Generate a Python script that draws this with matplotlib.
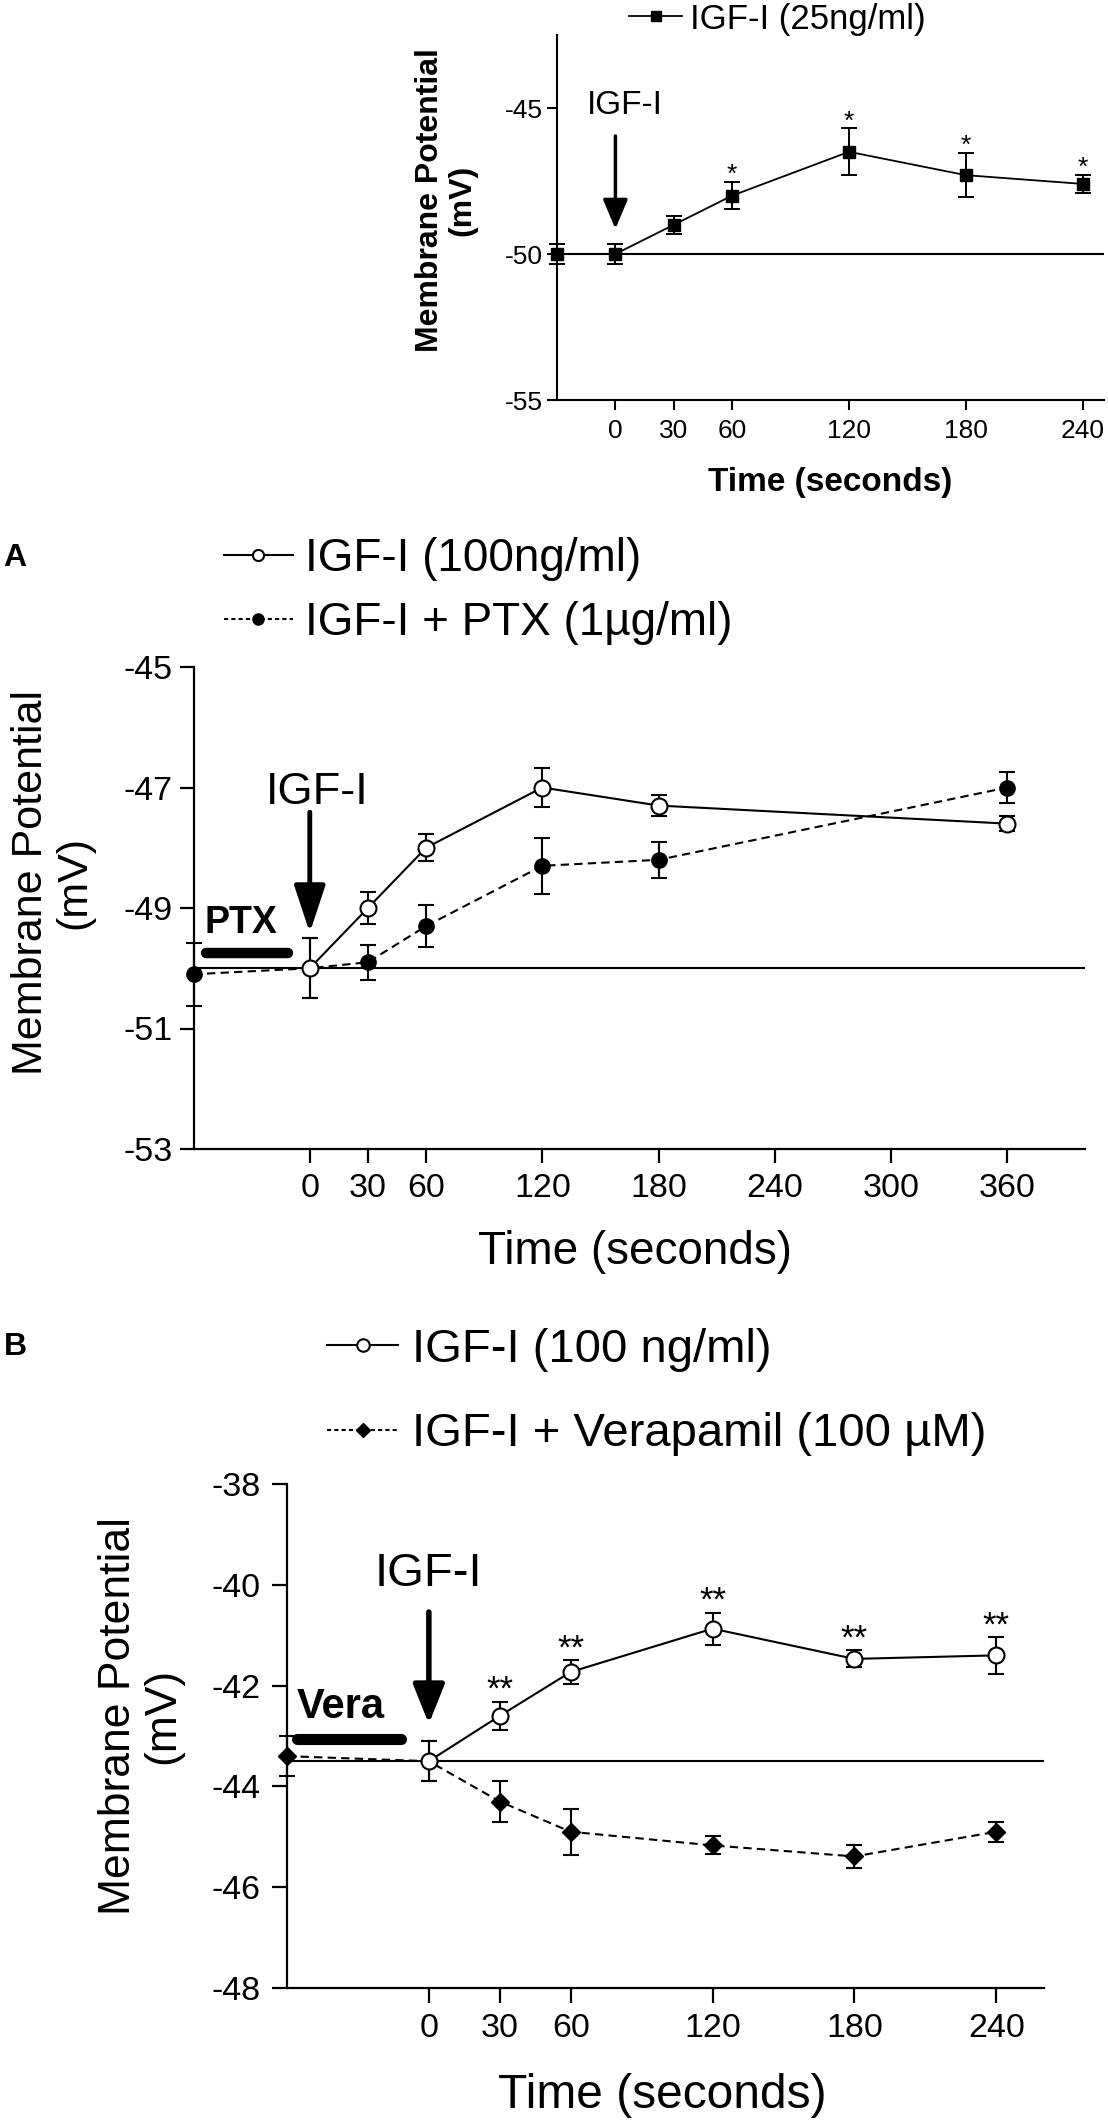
import matplotlib.pyplot as plt
from matplotlib.lines import Line2D

plt.rcParams['font.family'] = ['Liberation Sans', 'DejaVu Sans']
plt.rcParams['axes.unicode_minus'] = False

# ---- data (mV, mean +/- sem) ----
# top panel, IGF-I 25 ng/ml
top_t = [-30, 0, 30, 60, 120, 180, 240]
top_v = [-50.0, -50.0, -49.0, -48.0, -46.5, -47.3, -47.6]
top_e = [0.35, 0.33, 0.31, 0.46, 0.80, 0.75, 0.31]
top_star = [60, 120, 180, 240]
top_xticks = [0, 30, 60, 120, 180, 240]
top_yticks = [-55, -50, -45]

# panel A, IGF-I 100 ng/ml with / without PTX
a_t_igf = [0, 30, 60, 120, 180, 360]
a_v_igf = [-50.0, -49.0, -48.0, -47.0, -47.3, -47.6]
a_e_igf = [0.50, 0.27, 0.22, 0.32, 0.18, 0.12]
a_t_ptx = [-60, 0, 30, 60, 120, 180, 360]
a_v_ptx = [-50.1, -50.0, -49.9, -49.3, -48.3, -48.2, -47.0]
a_e_ptx = [0.52, 0.50, 0.29, 0.35, 0.47, 0.30, 0.25]
a_xticks = [0, 30, 60, 120, 180, 240, 300, 360]
a_yticks = [-53, -51, -49, -47, -45]
ptx_bar = [-53.5, -11]

# panel B, IGF-I 100 ng/ml with / without verapamil
b_t_igf = [0, 30, 60, 120, 180, 240]
b_v_igf = [-43.5, -42.6, -41.73, -40.87, -41.47, -41.4]
b_e_igf = [0.40, 0.28, 0.23, 0.32, 0.17, 0.36]
b_t_vera = [-60, 0, 30, 60, 120, 180, 240]
b_v_vera = [-43.4, -43.5, -44.3, -44.9, -45.17, -45.39, -44.9]
b_e_vera = [0.40, 0.40, 0.40, 0.46, 0.18, 0.22, 0.20]
b_star = [30, 60, 120, 180, 240]
b_xticks = [0, 30, 60, 120, 180, 240]
b_yticks = [-48, -46, -44, -42, -40, -38]
vera_bar = [-55.6, -11.6]

W, H = 1108, 2122
fig = plt.figure(figsize=(W / 100, H / 100), dpi=100)


def box(x0, y0, x1, y1):
    # pixel box -> figure fraction
    return [x0 / W, 1 - y1 / H, (x1 - x0) / W, (y1 - y0) / H]


def style(ax, lw, ticklen, fs, xpad, ypad):
    for s in ['top', 'right']:
        ax.spines[s].set_visible(False)
    for s in ['left', 'bottom']:
        ax.spines[s].set_linewidth(lw)
    ax.tick_params(direction='out', length=ticklen, width=lw, labelsize=fs)
    ax.tick_params(axis='x', pad=xpad)
    ax.tick_params(axis='y', pad=ypad)


def noclip(cont):
    for a in cont.get_children():
        a.set_clip_on(False)


ax0 = fig.add_axes(box(557, 35, 1104, 400))
axA = fig.add_axes(box(193.5, 667, 1085, 1149))
axB = fig.add_axes(box(287, 1484, 1043.5, 1988))

# ---------------- top panel ----------------
style(ax0, 1.5, 7.5, 19, 6, 3)
ax0.axhline(-50, color='k', lw=1.5, zorder=1)
c = ax0.errorbar(top_t, top_v, yerr=top_e, color='k', lw=1.3, marker='s', ms=8,
                 mfc='k', mec='k', elinewidth=1.4, capsize=5.5, capthick=1.4, zorder=3)
noclip(c)
for t in top_star:
    i = top_t.index(t)
    ax0.annotate('*', (t, top_v[i] + top_e[i]), xytext=(0, 0), textcoords='offset points',
                 ha='center', va='baseline', fontsize=19)
ax0.annotate('', xy=(0, -49.14), xytext=(0, -45.96),
             arrowprops=dict(arrowstyle='-|>,head_length=0.9,head_width=0.38', color='k',
                             lw=2.5, shrinkA=0, shrinkB=0, mutation_scale=20))
ax0.text(5, -45.2, 'IGF-I', ha='center', va='baseline', fontsize=24)
ax0.set_xlim(-30, 251)
ax0.set_ylim(-55, -42.5)
ax0.set_xticks(top_xticks)
ax0.set_yticks(top_yticks)
ax0.legend(handles=[Line2D([], [], color='k', lw=1.3, marker='s', ms=7)],
           labels=['IGF-I (25ng/ml)'], loc='center left',
           bbox_to_anchor=(629 / W, 1 - 19 / H), bbox_transform=fig.transFigure,
           frameon=False, fontsize=25, handlelength=1.54, handletextpad=0.23,
           borderpad=0, borderaxespad=0)
fig.text(446 / W, 1 - 200 / H, 'Membrane Potential\n(mV)', rotation=90, ha='center',
         va='center', fontsize=23, fontweight='bold', linespacing=1.1,
         multialignment='center')
fig.text(830 / W, 1 - 483 / H, 'Time (seconds)', ha='center', va='center',
         fontsize=24, fontweight='bold')

# ---------------- panel A ----------------
style(axA, 1.6, 10, 24.5, 7, 5)
axA.axhline(-50, color='k', lw=1.5, zorder=1)
c = axA.errorbar(a_t_ptx, a_v_ptx, yerr=a_e_ptx, color='k', lw=1.5, ls=(0, (4, 2.5)),
                 marker='o', ms=11, mfc='k', mec='k', elinewidth=1.5, capsize=6,
                 capthick=1.5, zorder=3)
noclip(c)
c = axA.errorbar(a_t_igf, a_v_igf, yerr=a_e_igf, color='k', lw=1.5, marker='o', ms=11.5,
                 mfc='white', mec='k', mew=1.5, elinewidth=1.5, capsize=6,
                 capthick=1.5, zorder=4)
noclip(c)
axA.plot(ptx_bar, [-49.75, -49.75], color='k', lw=7.5, solid_capstyle='round',
         clip_on=False)
axA.text(-54.4, -49.41, 'PTX', ha='left', va='baseline', fontsize=27, fontweight='bold')
axA.annotate('', xy=(0, -49.41), xytext=(0, -47.41),
             arrowprops=dict(arrowstyle='-|>,head_length=1.45,head_width=0.48', color='k',
                             lw=3.5, shrinkA=0, shrinkB=0, mutation_scale=20))
axA.text(3.6, -47.28, 'IGF-I', ha='center', va='baseline', fontsize=32.5)
axA.set_xlim(-60, 400)
axA.set_ylim(-53, -45)
axA.set_xticks(a_xticks)
axA.set_yticks(a_yticks)
hA = [Line2D([], [], color='k', lw=1.5, marker='o', ms=8, mfc='white', mec='k', mew=1.5),
      Line2D([], [], color='k', lw=1.5, ls=(0, (2, 1.5)), marker='o', ms=8, mfc='k')]
axA.legend(handles=hA, labels=['IGF-I (100ng/ml)', 'IGF-I + PTX (1\u00b5g/ml)'],
           loc='center left', bbox_to_anchor=(224 / W, 1 - 591 / H),
           bbox_transform=fig.transFigure, frameon=False, fontsize=33,
           handlelength=1.5, handletextpad=0.26, labelspacing=0.45,
           borderpad=0, borderaxespad=0)
fig.text(53 / W, 1 - 882 / H, 'Membrane Potential\n(mV)', rotation=90, ha='center',
         va='center', fontsize=31, linespacing=1.1, multialignment='center')
fig.text(635 / W, 1 - 1252 / H, 'Time (seconds)', ha='center', va='center', fontsize=33)
fig.text(15 / W, 1 - 558 / H, 'A', ha='center', va='center', fontsize=23,
         fontweight='bold')

# ---------------- panel B ----------------
style(axB, 1.6, 11, 24.5, 7, 8)
axB.axhline(-43.5, color='k', lw=1.5, zorder=1)
c = axB.errorbar(b_t_vera, b_v_vera, yerr=b_e_vera, color='k', lw=1.5, ls=(0, (4, 2.5)),
                 marker='D', ms=9, mfc='k', mec='k', elinewidth=1.5, capsize=6,
                 capthick=1.5, zorder=3)
noclip(c)
c = axB.errorbar(b_t_igf, b_v_igf, yerr=b_e_igf, color='k', lw=1.5, marker='o', ms=11.5,
                 mfc='white', mec='k', mew=1.5, elinewidth=1.5, capsize=6,
                 capthick=1.5, zorder=4)
noclip(c)
for t in b_star:
    i = b_t_igf.index(t)
    axB.annotate('**', (t, b_v_igf[i] + b_e_igf[i]), xytext=(0, 1.5),
                 textcoords='offset points', ha='center', va='baseline', fontsize=25)
axB.plot(vera_bar, [-43.05, -43.05], color='k', lw=8, solid_capstyle='round',
         clip_on=False)
axB.text(-56, -42.65, 'Vera', ha='left', va='baseline', fontsize=30, fontweight='bold')
axB.annotate('', xy=(0, -42.76), xytext=(0, -40.54),
             arrowprops=dict(arrowstyle='-|>,head_length=1.2,head_width=0.48', color='k',
                             lw=4, shrinkA=0, shrinkB=0, mutation_scale=20))
axB.text(0, -40.02, 'IGF-I', ha='center', va='baseline', fontsize=34)
axB.set_xlim(-60, 260)
axB.set_ylim(-48, -38)
axB.set_xticks(b_xticks)
axB.set_yticks(b_yticks)
hB = [Line2D([], [], color='k', lw=1.5, marker='o', ms=9, mfc='white', mec='k', mew=1.5),
      Line2D([], [], color='k', lw=1.5, ls=(0, (2, 1.5)), marker='D', ms=7, mfc='k')]
axB.legend(handles=hB, labels=['IGF-I (100 ng/ml)', 'IGF-I + Verapamil (100 \u00b5M)'],
           loc='center left', bbox_to_anchor=(327 / W, 1 - 1392 / H),
           bbox_transform=fig.transFigure, frameon=False, fontsize=34,
           handlelength=1.51, handletextpad=0.3, labelspacing=0.85,
           borderpad=0, borderaxespad=0)
fig.text(141 / W, 1 - 1716 / H, 'Membrane Potential\n(mV)', rotation=90, ha='center',
         va='center', fontsize=32, linespacing=1.1, multialignment='center')
fig.text(662 / W, 1 - 2096 / H, 'Time (seconds)', ha='center', va='center', fontsize=34.5)
fig.text(15 / W, 1 - 1347 / H, 'B', ha='center', va='center', fontsize=23,
         fontweight='bold')

fig.savefig('out.png', dpi=100)
